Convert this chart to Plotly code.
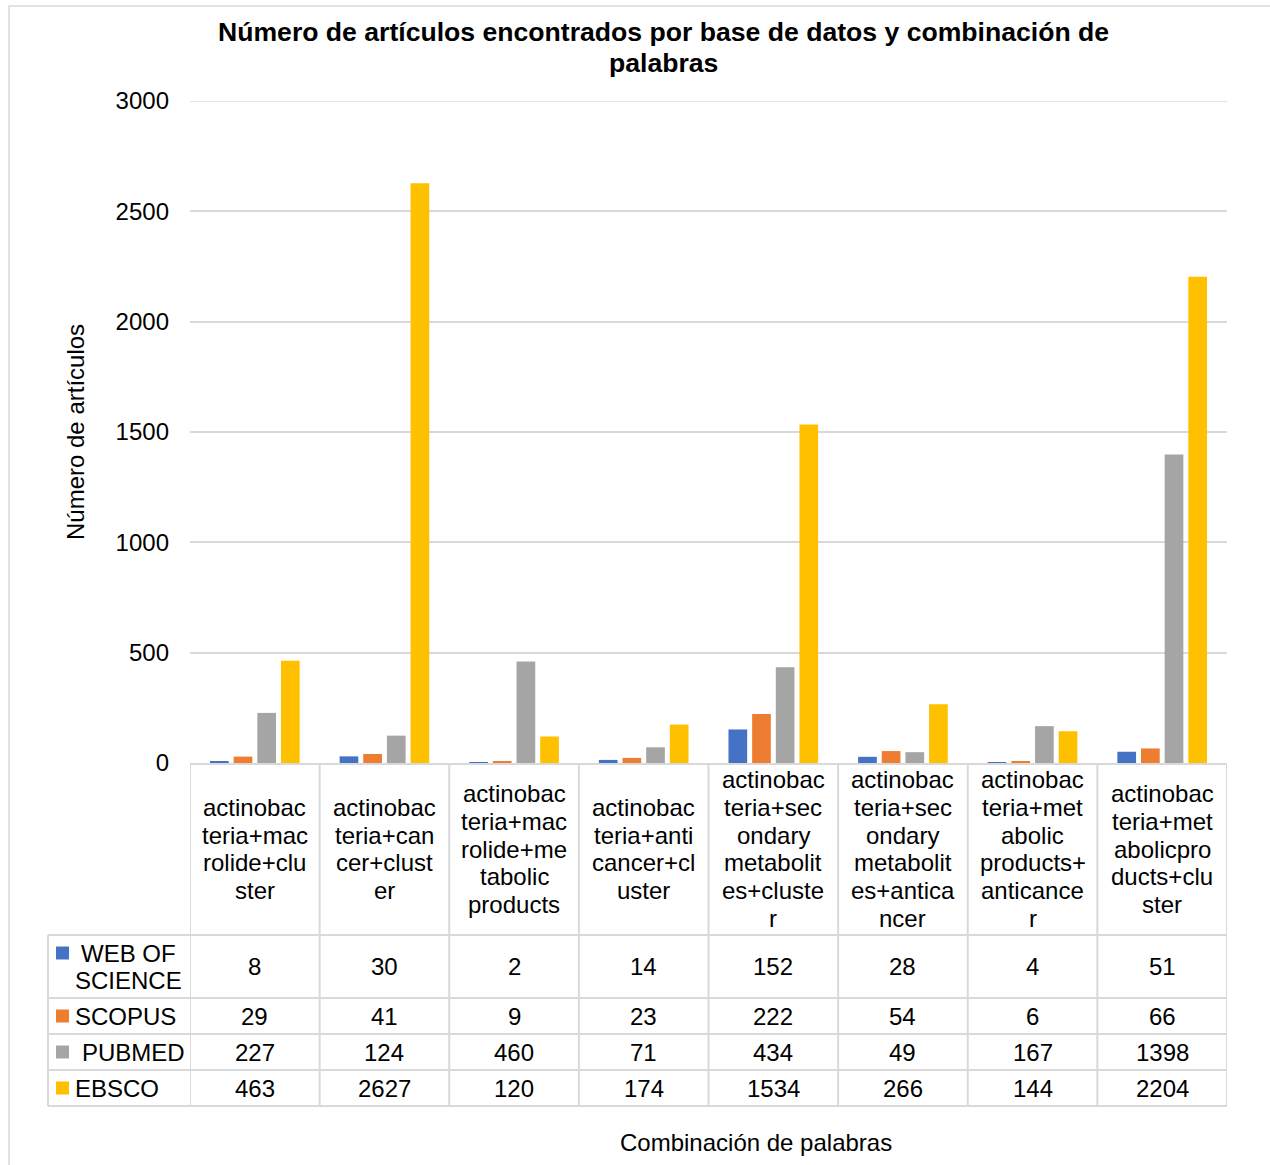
import plotly.graph_objects as go

# ---------------- data ----------------
categories = [
    "actinobacteria+macrolide+cluster",
    "actinobacteria+cancer+cluster",
    "actinobacteria+macrolide+metabolic products",
    "actinobacteria+anticancer+cluster",
    "actinobacteria+secondary metabolites+cluster",
    "actinobacteria+secondary metabolites+anticancer",
    "actinobacteria+metabolic products+anticancer",
    "actinobacteria+metabolicproducts+cluster",
]
category_label_lines = [
    ["actinobac", "teria+mac", "rolide+clu", "ster"],
    ["actinobac", "teria+can", "cer+clust", "er"],
    ["actinobac", "teria+mac", "rolide+me", "tabolic", "products"],
    ["actinobac", "teria+anti", "cancer+cl", "uster"],
    ["actinobac", "teria+sec", "ondary", "metabolit", "es+cluste", "r"],
    ["actinobac", "teria+sec", "ondary", "metabolit", "es+antica", "ncer"],
    ["actinobac", "teria+met", "abolic", "products+", "anticance", "r"],
    ["actinobac", "teria+met", "abolicpro", "ducts+clu", "ster"],
]
series_names = ["WEB OF SCIENCE", "SCOPUS", "PUBMED", "EBSCO"]
series_row_labels = [["WEB OF", "SCIENCE"], ["SCOPUS"], ["PUBMED"], ["EBSCO"]]
web_of_science = [8, 30, 2, 14, 152, 28, 4, 51]
scopus = [29, 41, 9, 23, 222, 54, 6, 66]
pubmed = [227, 124, 460, 71, 434, 49, 167, 1398]
ebsco = [463, 2627, 120, 174, 1534, 266, 144, 2204]
y_ticks = [0, 500, 1000, 1500, 2000, 2500, 3000]

title_lines = ["Número de artículos encontrados por base de datos y combinación de", "palabras"]
y_title = "Número de artículos"
x_title = "Combinación de palabras"

# ---------------- style ----------------
colors = ["#4472C4", "#ED7D31", "#A5A5A5", "#FFC000"]
GRID = "#D9D9D9"
FONT = "Liberation Sans, Arial, sans-serif"
W, H = 1270, 1165
PL, PR, PT, PB = 190, 1227, 101, 763


def px(x):
    return (x - PL) / (PR - PL)


def py(y):
    return (PB - y) / (PB - PT)


series_values = [web_of_science, scopus, pubmed, ebsco]
n = len(categories)

fig = go.Figure()
for name, vals, col in zip(series_names, series_values, colors):
    fig.add_trace(go.Bar(x=list(range(n)), y=vals, name=name,
                         marker=dict(color=col, line=dict(width=0)),
                         showlegend=False))

shapes = []
annotations = []

# outer chart border
shapes.append(dict(type="rect", xref="paper", yref="paper",
                   x0=px(9), x1=px(1300), y0=py(6), y1=py(1200),
                   line=dict(color=GRID, width=1.5), fillcolor="rgba(0,0,0,0)", layer="below"))

# top gridline (at max tick)
shapes.append(dict(type="line", xref="paper", yref="y", x0=0, x1=1,
                   y0=y_ticks[-1], y1=y_ticks[-1], line=dict(color=GRID, width=1.5), layer="below"))

# table geometry (rows in pixels)
row_bounds = [935, 998, 1034, 1070, 1106]
table_left = 48

# vertical lines at category boundaries
for i in range(n + 1):
    shapes.append(dict(type="line", xref="x", yref="paper",
                       x0=i - 0.5, x1=i - 0.5, y0=py(PB), y1=py(row_bounds[-1]),
                       line=dict(color=GRID, width=2)))
# left column vertical
shapes.append(dict(type="line", xref="paper", yref="paper",
                   x0=px(table_left), x1=px(table_left), y0=py(row_bounds[0]), y1=py(row_bounds[-1]),
                   line=dict(color=GRID, width=2)))
# horizontal table lines
for yb in row_bounds:
    shapes.append(dict(type="line", xref="paper", yref="paper",
                       x0=px(table_left), x1=1, y0=py(yb), y1=py(yb),
                       line=dict(color=GRID, width=2)))

# category header labels
LINE_H = 27.7
header_center = 849
for i, lines in enumerate(category_label_lines):
    k = len(lines)
    for j, t in enumerate(lines):
        yc = header_center + (j - (k - 1) / 2) * LINE_H
        annotations.append(dict(x=i, y=py(yc), xref="x", yref="paper", text=t,
                                showarrow=False, xanchor="center", yanchor="middle",
                                font=dict(family=FONT, size=24, color="#000")))

# data rows
row_centers = [967, 1016, 1052, 1088]
key_centers = [953, 1016, 1052, 1088]
label_x = [[79, 73], [73], [80], [73]]
for r, (vals, col) in enumerate(zip(series_values, colors)):
    for i, v in enumerate(vals):
        annotations.append(dict(x=i, y=py(row_centers[r]), xref="x", yref="paper", text=str(v),
                                showarrow=False, xanchor="center", yanchor="middle",
                                font=dict(family=FONT, size=24, color="#000")))
    # legend key
    kc = key_centers[r]
    shapes.append(dict(type="rect", xref="paper", yref="paper",
                       x0=px(56), x1=px(69), y0=py(kc - 6.5), y1=py(kc + 6.5),
                       fillcolor=col, line=dict(width=0)))
    lines = series_row_labels[r]
    k = len(lines)
    for j, t in enumerate(lines):
        yc = row_centers[r] + (j - (k - 1) / 2) * LINE_H
        annotations.append(dict(x=px(label_x[r][j]), y=py(yc), xref="paper", yref="paper", text=t,
                                showarrow=False, xanchor="left", yanchor="middle",
                                font=dict(family=FONT, size=24, color="#000")))

# title
for j, t in enumerate(title_lines):
    annotations.append(dict(x=px(663), y=py(32 + j * 31), xref="paper", yref="paper",
                            text="<b>" + t + "</b>", showarrow=False,
                            xanchor="center", yanchor="middle",
                            font=dict(family=FONT, size=26.6, color="#000")))
# axis titles
annotations.append(dict(x=px(75), y=py(432), xref="paper", yref="paper", text=y_title,
                        showarrow=False, textangle=-90, xanchor="center", yanchor="middle",
                        font=dict(family=FONT, size=24, color="#000")))
annotations.append(dict(x=px(756), y=py(1142), xref="paper", yref="paper", text=x_title,
                        showarrow=False, xanchor="center", yanchor="middle",
                        font=dict(family=FONT, size=24, color="#000")))

fig.update_layout(
    width=W, height=H,
    margin=dict(l=PL, r=W - PR, t=PT, b=H - PB, pad=0),
    paper_bgcolor="white", plot_bgcolor="white",
    barmode="group", bargap=0.27, bargroupgap=0.21,
    shapes=shapes, annotations=annotations,
    xaxis=dict(range=[-0.5, n - 0.5], showticklabels=False, showgrid=False,
               zeroline=False, showline=True, linecolor=GRID, linewidth=2, ticks="", fixedrange=True),
    yaxis=dict(range=[0, 3000], tickvals=y_ticks, showgrid=True, gridcolor=GRID, gridwidth=1.5,
               zeroline=False, showline=False, ticks="", ticklabelstandoff=20,
               tickfont=dict(family=FONT, size=24, color="#000")),
    font=dict(family=FONT),
)

fig.write_html("out.html")
